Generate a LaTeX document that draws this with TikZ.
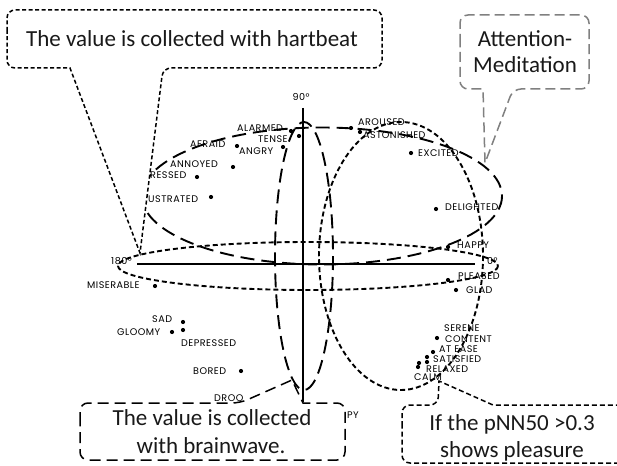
\documentclass[tikz,border=0pt]{standalone}
\usepackage{fontspec}
\newfontfamily\callfont{Carlito}
\newfontfamily\labfont[LetterSpace=5]{Poppins}
\begin{document}
\begin{tikzpicture}[x=1pt,y=-1pt,
  lab/.style={font=\labfont\fontsize{9.6}{11}\selectfont, inner sep=0pt, anchor=west, text=black},
  deg/.style={font=\labfont\fontsize{9.6}{11}\selectfont, inner sep=0pt, text=black},
  ctext/.style={font=\callfont\fontsize{23}{28}\selectfont, inner sep=0pt, anchor=base, text=black!90},
  axis/.style={line width=1.5pt, black},
  sdash/.style={line width=1.9pt, black, dash pattern=on 5pt off 3pt},
  ldash/.style={line width=1.9pt, black, dash pattern=on 14pt off 7pt},
  callA/.style={line width=1.5pt, black, dash pattern=on 4pt off 2.5pt, fill=white},
  callB/.style={line width=1.5pt, black, dash pattern=on 11pt off 6pt, fill=white},
  callC/.style={line width=1.5pt, black, dash pattern=on 5pt off 3pt, fill=white},
  callD/.style={line width=1.5pt, black!50, dash pattern=on 10pt off 5pt, fill=white},
  dotf/.style={fill=black}
]
\useasboundingbox (0,0) rectangle (617,465);
\clip (0,0) rectangle (617,465);

% ---------- labels ----------
\node[lab] (alarmed) at (237,128) {ALARMED};
\node[lab] (tense) at (258,139) {TENSE};
\node[lab] (afraid) at (190,144) {AFRAID};
\node[lab] (angry) at (239,151) {ANGRY};
\node[lab] (annoyed) at (170,164) {ANNOYED};
\node[lab] (distressed) at (150,175) {RESSED};
\node[lab] (frustrated) at (148,199) {USTRATED};
\node[lab] (miserable) at (87,285) {MISERABLE};
\node[lab] (sad) at (152,319) {SAD};
\node[lab] (gloomy) at (117,332) {GLOOMY};
\node[lab] (depressed) at (181,343) {DEPRESSED};
\node[lab] (bored) at (193,371) {BORED};
\node[lab] (droopy) at (214,398) {DROO};
\node[lab] (sleepy) at (347,415) {PY};
\node[lab] (aroused) at (358,122) {AROUSED};
\node[lab] (astonished) at (363,135) {ASTONISHED};
\node[lab] (excited) at (418,153) {EXCITED};
\node[lab] (delighted) at (445,207) {DELIGHTED};
\node[lab] (happy) at (457,245) {HAPPY};
\node[lab] (pleased) at (458,276) {PLEASED};
\node[lab] (glad) at (466,290) {GLAD};
\node[lab] (serene) at (444,328) {SERENE};
\node[lab] (content) at (445,339) {CONTENT};
\node[lab] (atease) at (439,349) {AT EASE};
\node[lab] (satisfied) at (433,359) {SATISFIED};
\node[lab] (relaxed) at (426,369) {RELAXED};
\node[lab] (calm) at (414,377) {CALM};

\node[deg] (d90) at (301,97) {90°};
\node[deg,anchor=west] (d180) at (111,261) {180°};
\node[deg,anchor=west] (d0) at (487,261) {0°};

% ---------- dots ----------
\foreach \p in {(291,131),(299,136),(237,146),(283,147),(233,167),(197,177),(211,197),
  (155,286),(183,322),(172,332),(183,330),(241,371),
  (351,128),(360,132),(411,153),(436,209),(448,247),(448,280),(456,290),
  (437,338),(433,352),(427,357),(427,362),(419,363),(418,367)}
  \fill[dotf] \p circle [radius=2.1];

% ---------- axes ----------
\draw[axis] (137,264) -- (475,264);
\draw[axis] (303,108) -- (303,402);

% ---------- ellipses ----------
\draw[sdash] (308,266) ellipse [x radius=190, y radius=24];
\draw[ldash] (322,196) ellipse [x radius=180, y radius=68.5];
\draw[ldash] (304,256) ellipse [x radius=29, y radius=134];
\draw[sdash] (401,256) ellipse [x radius=82, y radius=134];

% ---------- callouts ----------
\draw[callA] (7,39) [rounded corners=8pt] |- (382,10) |- (163,68) [sharp corners] -- (140,253) -- (70,68) [rounded corners=8pt] -| (7,39) -- cycle;
\node[ctext] (hart) at (192,47) {The value is collected with hartbeat};

\draw[callD] (460,52) [rounded corners=8pt] |- (589,15) |- (513,89) [sharp corners] -- (485,163) -- (483,89) [rounded corners=8pt] -| (460,52) -- cycle;
\node[ctext] (att1) at (525,47) {Attention-};
\node[ctext] (att2) at (525,73) {Meditation};

\draw[callB] (80,431) [rounded corners=8pt] |- (240,403) [sharp corners] -- (292,380) -- (303,403) [rounded corners=8pt] -| (345,460) -| (80,431) -- cycle;
\node[ctext] (brain1) at (212,425) {The value is collected};
\node[ctext] (brain2) at (211,453) {with brainwave.};

\draw[callC] (402,434) [rounded corners=8pt] |- (438,405) [sharp corners] -- (439,381) -- (493,405) [rounded corners=8pt] -| (640,463) -| (402,434) -- cycle;
\node[ctext] (pnn1) at (512,430) {If the pNN50 >0.3};
\node[ctext] (pnn2) at (512,457) {shows pleasure};
\end{tikzpicture}
\end{document}
